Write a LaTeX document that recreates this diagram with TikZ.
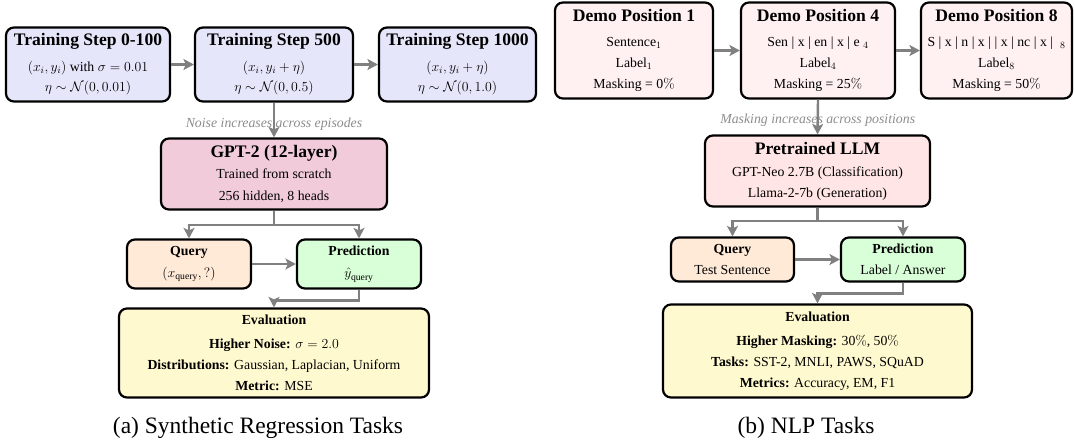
\RequirePackage{fix-cm}
\documentclass[tikz,border=0pt]{standalone}
\usepackage{amsmath}
\usepackage[no-math]{fontspec}
\setmainfont{Liberation Serif}
\usetikzlibrary{arrows.meta}

% type sizes used in the boxes
\newcommand\bodyfont{\fontsize{13.8}{21}\selectfont}
\newcommand\headfont{\fontsize{17.6}{21}\selectfont\bfseries}
\newcommand\capfont{\fontsize{23.5}{28}\selectfont}

% fills
\definecolor{stepfill}{RGB}{230,230,251}
\definecolor{demofill}{RGB}{255,241,241}
\definecolor{gptfill}{RGB}{241,203,217}
\definecolor{llmfill}{RGB}{255,229,229}
\definecolor{queryfill}{RGB}{255,234,216}
\definecolor{predfill}{RGB}{216,255,216}
\definecolor{evalfill}{RGB}{255,249,207}
\definecolor{flowgray}{RGB}{128,128,128}
\definecolor{notegray}{RGB}{140,140,140}

\begin{document}
\begin{tikzpicture}[x=1pt,y=-1pt,
  box/.style={draw=black, line width=2.2pt, rounded corners=8pt, align=center,
    inner sep=0pt, font=\bodyfont},
  flow/.style={draw=flowgray, line width=2.4pt,
    -{Stealth[length=10.5pt,width=11pt,inset=2.5pt]}},
  note/.style={font=\bodyfont\itshape, text=notegray},
  caption/.style={font=\capfont, anchor=base}]

\useasboundingbox (0,0) rectangle (1075,442);

% ---------------- (a) synthetic regression ----------------
\node[box, fill=stepfill, minimum width=164pt, minimum height=74pt] (ts0) at (88,64.5)
  {{\headfont Training Step 0-100}\\[5pt]
   $(x_i, y_i)$ with $\sigma = 0.01$\\[-1pt]
   $\eta \sim \mathcal{N}(0, 0.01)$};
\node[box, fill=stepfill, minimum width=158pt, minimum height=74pt] (ts500) at (274,64.5)
  {{\headfont Training Step 500}\\[5pt]
   $(x_i, y_i + \eta)$\\[-1pt]
   $\eta \sim \mathcal{N}(0, 0.5)$};
\node[box, fill=stepfill, minimum width=157pt, minimum height=74pt] (ts1000) at (457.5,64.5)
  {{\headfont Training Step 1000}\\[5pt]
   $(x_i, y_i + \eta)$\\[-1pt]
   $\eta \sim \mathcal{N}(0, 1.0)$};

\node[box, fill=gptfill, minimum width=226pt, minimum height=71pt] (gpt) at (274,174)
  {{\headfont GPT-2 (12-layer)}\\[0pt]
   Trained from scratch\\[1pt]
   256 hidden, 8 heads};

\node[box, fill=queryfill, minimum width=124pt, minimum height=49pt] (qa) at (189,264)
  {\textbf{Query}\\[1.5pt] $(x_{\text{query}}, ?)$};
\node[box, fill=predfill, minimum width=124pt, minimum height=49pt] (pa) at (359,264)
  {\textbf{Prediction}\\[1.5pt] $\hat{y}_{\text{query}}$};

\node[box, fill=evalfill, minimum width=310pt, minimum height=89pt] (ea) at (274,353)
  {\textbf{Evaluation}\\[3pt]
   \textbf{Higher Noise:} $\sigma = 2.0$\\
   \textbf{Distributions:} Gaussian, Laplacian, Uniform\\
   \textbf{Metric:} MSE};

\draw[flow] (ts0) -- (ts500);
\draw[flow] (ts500) -- (ts1000);
\draw[flow] (ts500.south) -- node[note, pos=0.62] {Noise increases across episodes} (gpt.north);
\coordinate (splita) at (274,225);
\draw[flow] (gpt.south) -- (splita) -| (qa.north);
\draw[flow] (splita) -| (pa.north);
\draw[flow] (qa) -- (pa);
\draw[flow] (pa.south) -- ++(0,11) -| (ea.north);

\node[caption] (capa) at (258,433) {(a) Synthetic Regression Tasks};

% ---------------- (b) NLP tasks ----------------
\node[box, fill=demofill, minimum width=158pt, minimum height=96pt] (d1) at (634,50.5)
  {{\headfont Demo Position 1}\\[4pt]
   Sentence$_1$\\
   Label$_1$\\
   Masking = 0$\%$};
\node[box, fill=demofill, minimum width=154pt, minimum height=96pt] (d4) at (818,50.5)
  {{\headfont Demo Position 4}\\[4pt]
   Sen | x | en | x | e $_4$\\
   Label$_4$\\
   Masking = 25$\%$};
\node[box, fill=demofill, minimum width=151pt, minimum height=96pt] (d8) at (996.5,50.5)
  {{\headfont Demo Position 8}\\[4pt]
   S | x | n | x | | x | nc | x | \ $_8$\\
   Label$_8$\\
   Masking = 50$\%$};

\node[box, fill=llmfill, minimum width=225pt, minimum height=71pt] (llm) at (817.5,171)
  {{\headfont Pretrained LLM}\\[1pt]
   GPT-Neo 2.7B (Classification)\\
   Llama-2-7b (Generation)};

\node[box, fill=queryfill, minimum width=123pt, minimum height=44pt] (qb) at (732.5,259.5)
  {\textbf{Query}\\[0.5pt] Test Sentence};
\node[box, fill=predfill, minimum width=124pt, minimum height=44pt] (pb) at (903,259.5)
  {\textbf{Prediction}\\[0.5pt] Label / Answer};

\node[box, fill=evalfill, minimum width=309pt, minimum height=93pt] (eb) at (817.5,351)
  {\textbf{Evaluation}\\[3pt]
   \textbf{Higher Masking:} 30$\%$, 50$\%$\\
   \textbf{Tasks:} SST-2, MNLI, PAWS, SQuAD\\
   \textbf{Metrics:} Accuracy, EM, F1};

\draw[flow] (d1) -- (d4);
\draw[flow] (d4) -- (d8);
\draw[flow] (d4.south) -- node[note, pos=0.6] {Masking increases across positions} (llm.north);
\coordinate (splitb) at (817.5,221);
\draw[flow] (llm.south) -- (splitb) -| (qb.north);
\draw[flow] (splitb) -| (pb.north);
\draw[flow] (qb) -- (pb);
\draw[flow] (pb.south) -- ++(0,11) -| (eb.north);

\node[caption] (capb) at (806,433) {(b) NLP Tasks};

\end{tikzpicture}
\end{document}
